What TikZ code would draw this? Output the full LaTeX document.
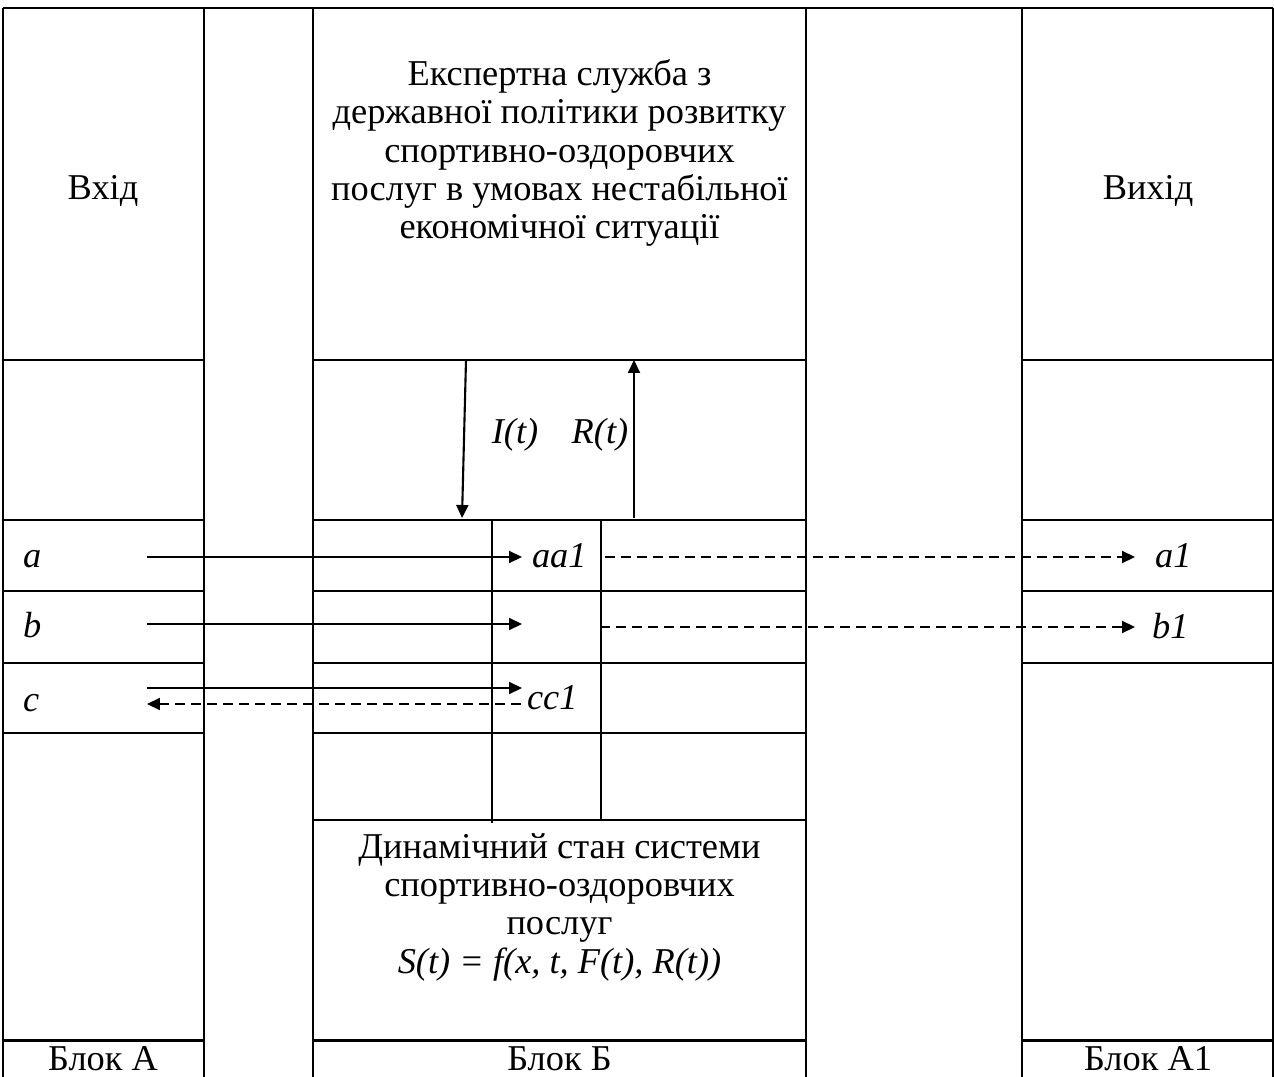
\documentclass[tikz,border=0pt]{standalone}
\usepackage{fontspec}
\setmainfont{Liberation Serif}
\usetikzlibrary{arrows.meta}

\begin{document}
\begin{tikzpicture}[x=0.02cm,y=-0.02cm,line width=1.2pt,
  txt/.style={font=\fontsize{20.7}{21.8}\selectfont,align=center,inner sep=0pt},
  lbl/.style={font=\fontsize{20.7}{21.8}\selectfont\itshape,inner sep=0pt},
  sarrow/.style={-{Triangle[length=0.26cm,width=0.24cm]}},
  darrow/.style={sarrow,dash pattern=on 0.2cm off 0.12cm}]
\useasboundingbox (0,0) rectangle (1274,1077);
% frame and columns
\draw [line width=1.6pt] (3,8) -- (1273,8);
\foreach \x in {3,204,313,806,1022,1273}
  \draw [black] (\x,8) -- (\x,1077);
\foreach \y in {360,520,591,663}
{
  \draw [black] (3,\y) -- (204,\y);
  \draw [black] (313,\y) -- (806,\y);
  \draw [black] (1022,\y) -- (1273,\y);
}
\draw [black] (3,733) -- (204,733);
\draw [black] (313,733) -- (806,733);
\draw [black] (313,820) -- (806,820);
\draw [line width=1.7pt] (3,1040) -- (204,1040);
\draw [line width=1.7pt] (313,1040) -- (806,1040);
\draw [line width=1.7pt] (1022,1040) -- (1273,1040);
\draw [line width=1.5pt] (492,520) -- (492,823);
\draw [black] (601,520) -- (601,820);
% texts
\node [txt] (vhid) at (103,191) {Вхід};
\node [txt] (vyhid) at (1148,191) {Вихід};
\node [txt] (expert) at (559.5,153) {Експертна служба з\\ державної політики розвитку\\ спортивно-оздоровчих\\ послуг в умовах нестабільної\\ економічної ситуації};
\node [txt] (dynamic) at (559.5,907) {Динамічний стан системи\\ спортивно-оздоровчих\\ послуг\\ \itshape S(t) = f(x, t, F(t), R(t))};
\node [txt] (blokA) at (103,1059) {Блок А};
\node [txt] (blokB) at (559.5,1059) {Блок Б};
\node [txt] (blokA1) at (1148,1059) {Блок А1};
\node [lbl,anchor=base west] (la) at (22,567) {a};
\node [lbl,anchor=base west] (lb) at (22,637) {b};
\node [lbl,anchor=base west] (lc) at (22,711) {c};
\node [lbl,anchor=base west] (aa1) at (531,567) {aa1};
\node [lbl,anchor=base west] (cc1) at (526,709) {cc1};
\node [lbl,anchor=base west] (a1) at (1154,567) {a1};
\node [lbl,anchor=base west] (b1) at (1151,638) {b1};
\node [lbl] (It) at (515,435) {I(t)};
\node [lbl] (Rt) at (600,435) {R(t)};
% arrows
\coordinate (itop) at (466,360);
\coordinate (ibot) at (462,518);
\coordinate (rbot) at (634,518);
\coordinate (rtop) at (634,360);
\coordinate (ain) at (147,557);
\coordinate (bin) at (147,624);
\coordinate (bend) at (522,624);
\coordinate (bout) at (600,627);
\coordinate (cin) at (147,688);
\coordinate (cout) at (147,704);
\draw [sarrow] (itop) -- (ibot);
\draw [sarrow] (rbot) -- (rtop);
\draw [sarrow,shorten >=0.18cm] (ain) -- (aa1.west |- ain);
\draw [darrow,shorten <=0.34cm,shorten >=0.38cm] (aa1.east |- ain) -- (a1.west |- ain);
\draw [sarrow] (bin) -- (bend);
\draw [darrow,shorten >=0.32cm] (bout) -- (b1.west |- bout);
\draw [sarrow,shorten >=0.08cm] (cin) -- (cin -| cc1.west);
\draw [darrow,shorten <=0.1cm] (cc1.west |- cout) -- (cout);
\end{tikzpicture}
\end{document}
